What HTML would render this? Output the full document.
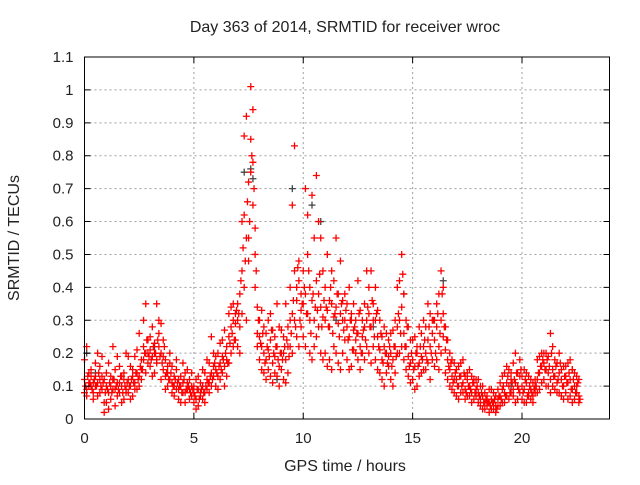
<!DOCTYPE html>
<html><head><meta charset="utf-8"><style>
body{margin:0;background:#fff;}
svg text{font-family:"Liberation Sans",sans-serif;font-size:15px;fill:#222;}
svg text.big{font-size:16px;}
</style></head><body>
<svg id="chart" width="640" height="480" xmlns="http://www.w3.org/2000/svg">
<rect width="640" height="480" fill="#fff"/>
<g id="grid"></g>
<g id="points"></g>
<g id="axes"></g>
<text class="big" x="345" y="32" text-anchor="middle">Day 363 of 2014, SRMTID for receiver wroc</text>
<text class="big" x="345" y="471" text-anchor="middle">GPS time / hours</text>
<text class="big" x="0" y="0" text-anchor="middle" transform="translate(19,238) rotate(-90)">SRMTID / TECUs</text>
</svg>
<script>
const xTicks=[0,5,10,15,20];
const yTicks=[0,0.1,0.2,0.3,0.4,0.5,0.6,0.7,0.8,0.9,1,1.1];
const yTickLabels=["0","0.1","0.2","0.3","0.4","0.5","0.6","0.7","0.8","0.9","1","1.1"];
const t0=0, dt=0.1;
const seriesA=[.12,.09,.14,.10,.08,.13,.11,.16,.09,.12,
.10,.08,.13,.09,.15,.07,.11,.10,.14,.08,
.12,.10,.15,.11,.09,.13,.18,.22,.20,.17,
.21,.19,.23,.18,.26,.20,.15,.13,.16,.12,
.11,.13,.09,.12,.10,.08,.14,.11,.09,.07,
.08,.06,.09,.07,.10,.08,.12,.11,.14,.13,
.15,.13,.17,.19,.16,.22,.25,.28,.30,.24,
.30,.38,.45,.62,.55,.72,.85,.78,.50,.34,
.25,.22,.20,.18,.21,.24,.17,.19,.22,.16,
.20,.25,.18,.28,.22,.32,.30,.36,.42,.33,
.35,.38,.32,.40,.36,.30,.42,.38,.34,.31,
.30,.33,.28,.35,.31,.34,.29,.32,.36,.30,
.28,.25,.30,.27,.24,.26,.22,.25,.28,.30,
.32,.28,.35,.30,.25,.21,.18,.22,.20,.19,
.20,.18,.22,.28,.30,.34,.26,.22,.19,.17,
.18,.16,.20,.17,.19,.22,.20,.24,.22,.26,
.24,.28,.22,.30,.25,.21,.18,.15,.13,.12,
.12,.10,.13,.11,.09,.12,.10,.08,.11,.09,
.08,.06,.07,.05,.04,.05,.06,.05,.04,.06,
.07,.09,.08,.11,.10,.12,.09,.11,.10,.13,
.10,.09,.11,.08,.09,.07,.08,.12,.14,.16,
.17,.15,.14,.12,.15,.13,.11,.14,.12,.10,
.13,.11,.12,.09,.10,.08,.07];
const seriesB=[.18,.07,.11,.15,.06,.10,.20,.08,.13,.05,
.05,.17,.06,.12,.04,.19,.08,.13,.06,.20,
.08,.16,.07,.19,.14,.26,.12,.30,.35,.24,
.16,.28,.14,.35,.22,.29,.24,.18,.10,.20,
.16,.07,.15,.06,.13,.17,.05,.09,.12,.14,
.05,.12,.04,.11,.06,.14,.09,.17,.10,.20,
.10,.20,.12,.24,.10,.18,.32,.20,.35,.29,
.22,.28,.60,.40,.92,.48,1.01,.65,.58,.26,
.30,.15,.28,.12,.30,.13,.27,.14,.35,.10,
.15,.12,.35,.14,.40,.65,.83,.25,.48,.28,
.25,.70,.50,.20,.68,.22,.74,.28,.55,.18,
.20,.50,.18,.45,.22,.55,.17,.48,.20,.38,
.18,.40,.16,.35,.20,.42,.15,.30,.18,.45,
.20,.45,.22,.40,.15,.30,.12,.28,.14,.24,
.12,.27,.14,.40,.20,.50,.18,.30,.13,.24,
.12,.25,.10,.28,.14,.30,.15,.35,.12,.30,
.16,.35,.15,.45,.32,.28,.12,.20,.09,.17,
.07,.16,.08,.18,.06,.14,.07,.13,.06,.12,
.12,.04,.10,.03,.07,.02,.09,.03,.07,.04,
.04,.13,.05,.16,.06,.14,.07,.20,.06,.18,
.06,.15,.05,.13,.06,.11,.12,.18,.09,.20,
.12,.20,.10,.26,.10,.18,.08,.20,.07,.16,
.08,.17,.07,.15,.06,.13,.05];
const seriesC=[.08,.22,.10,.13,.11,.17,.07,.12,.19,.02,
.14,.03,.10,.22,.09,.11,.16,.05,.12,.09,
.19,.06,.13,.09,.21,.10,.15,.18,.14,.20,
.25,.13,.20,.17,.30,.12,.19,.09,.14,.17,
.08,.10,.18,.09,.05,.11,.08,.15,.06,.10,
.10,.03,.13,.08,.15,.05,.18,.08,.25,.16,
.19,.09,.23,.14,.27,.13,.17,.34,.22,.32,
.35,.20,.32,.86,.30,.55,.75,.94,.40,.22,
.18,.33,.14,.26,.15,.32,.11,.25,.13,.28,
.27,.20,.11,.22,.30,.20,.45,.40,.22,.38,
.45,.22,.62,.30,.18,.55,.25,.60,.20,.45,
.40,.16,.36,.15,.42,.20,.38,.15,.30,.24,
.35,.15,.32,.21,.30,.18,.33,.20,.35,.22,
.40,.17,.30,.18,.33,.14,.25,.10,.26,.16,
.26,.10,.30,.20,.42,.22,.38,.15,.28,.11,
.24,.09,.22,.13,.26,.15,.28,.17,.32,.18,
.30,.18,.38,.20,.40,.14,.24,.10,.18,.08,
.15,.06,.17,.08,.13,.07,.15,.05,.12,.07,
.05,.10,.03,.08,.06,.09,.03,.08,.02,.09,
.11,.05,.14,.07,.15,.08,.17,.05,.14,.08,
.13,.05,.14,.07,.12,.05,.10,.08,.19,.11,
.20,.10,.19,.08,.22,.09,.17,.08,.15,.06,
.16,.06,.18,.05,.14,.10,.12];
const seriesD=[.10,.13,.11,.09,.12,.10,.14,.10,.11,.08,
.09,.11,.08,.12,.10,.09,.13,.08,.10,.11,
.10,.12,.11,.14,.12,.16,.15,.20,.24,.19,
.18,.22,.20,.24,.19,.17,.22,.14,.12,.14,
.10,.12,.11,.10,.08,.12,.09,.10,.08,.09,
.07,.09,.06,.09,.08,.10,.11,.13,.12,.17,
.14,.16,.15,.18,.20,.17,.23,.26,.24,.33,
.32,.42,.52,.48,.66,.60,.80,.70,.45,.30,
.23,.26,.17,.22,.19,.27,.20,.22,.18,.20,
.18,.22,.24,.19,.26,.36,.28,.46,.30,.35,
.40,.32,.45,.26,.38,.34,.33,.44,.28,.36,
.34,.28,.40,.26,.32,.38,.25,.35,.27,.33,
.24,.30,.21,.28,.26,.32,.20,.27,.24,.34,
.28,.36,.25,.32,.22,.26,.17,.20,.17,.22,
.16,.22,.19,.32,.26,.44,.22,.28,.16,.20,
.15,.20,.16,.22,.18,.24,.18,.28,.20,.30,
.20,.32,.26,.38,.28,.24,.16,.17,.11,.14,
.10,.13,.10,.14,.08,.10,.09,.11,.08,.10,
.07,.08,.05,.06,.05,.04,.05,.06,.03,.07,
.06,.10,.07,.13,.08,.11,.12,.14,.09,.15,
.08,.12,.07,.10,.08,.09,.10,.14,.16,.18,
.15,.18,.16,.20,.13,.16,.12,.17,.10,.13,
.11,.14,.09,.12,.08,.11,.06];
const grayTimes=[0.1,0.5,1.3,3.2,7.3,7.6,7.7,8.8,9.5,10.4,10.8,11.5,13.2,14.6,16.4,19.5,22.3];
const grayValues=[.2,.14,.12,.22,.75,.76,.73,.12,.7,.65,.6,.3,.28,.38,.42,.1,.15];

const L=84.5,R=609.5,T=57,B=419,XMAX=24,YMAX=1.1;
const xs=v=>L+(R-L)*v/XMAX;
const ys=v=>B-(B-T)*v/YMAX;
const NS="http://www.w3.org/2000/svg";
function mk(tag,parent){const e=document.createElementNS(NS,tag);parent.appendChild(e);return e;}
const grid=document.getElementById('grid'),pts=document.getElementById('points'),axes=document.getElementById('axes');
yTicks.forEach((v,i)=>{
  if(v>0&&v<YMAX){const g=mk('line',grid);
  
  
  g.setAttribute('x1',L);g.setAttribute('x2',R);g.setAttribute('y1',ys(v));g.setAttribute('y2',ys(v));
  g.setAttribute('stroke','#a0a0a0');g.setAttribute('stroke-dasharray','2,3');}
  const tk=mk('path',axes);
  
  
  tk.setAttribute('d',`M${L},${ys(v)}h6M${R},${ys(v)}h-6`);tk.setAttribute('stroke','#000');
  const t=mk('text',axes);
  
  
  t.setAttribute('x',L-11);t.setAttribute('y',ys(v)+5);t.setAttribute('text-anchor','end');t.textContent=yTickLabels[i];
});
xTicks.forEach(v=>{
  if(v>0){const g=mk('line',grid);
  
  
  g.setAttribute('x1',xs(v));g.setAttribute('x2',xs(v));g.setAttribute('y1',T);g.setAttribute('y2',B);
  g.setAttribute('stroke','#a0a0a0');g.setAttribute('stroke-dasharray','2,3');}
  const tk=mk('path',axes);
  
  
  tk.setAttribute('d',`M${xs(v)},${B}v-6M${xs(v)},${T}v6`);tk.setAttribute('stroke','#000');
  const t=mk('text',axes);
  
  
  t.setAttribute('x',xs(v));t.setAttribute('y',B+24);t.setAttribute('text-anchor','middle');t.textContent=String(v);
});
const frame=mk('rect',axes);


frame.setAttribute('x',L);frame.setAttribute('y',T);frame.setAttribute('width',R-L);frame.setAttribute('height',B-T);
frame.setAttribute('fill','none');frame.setAttribute('stroke','#000');
function cross(x,y,color,name){
  const p=mk('path',pts);
  
  
  p.setAttribute('d',`M${x-3.5},${y}h7M${x},${y-3.5}v7`);p.setAttribute('stroke',color);p.setAttribute('stroke-width','1.3');
}
grayTimes.forEach((t,i)=>cross(xs(t),ys(grayValues[i]),'#444','gray-point'));
[seriesA,seriesB,seriesC].forEach(s=>s.forEach((v,i)=>cross(xs(t0+i*dt),ys(v),'#ff0000','srmtid-point')));
seriesD.forEach((v,i)=>cross(xs(t0+dt/2+i*dt),ys(v),'#ff0000','srmtid-point'));
</script>
</body></html>
